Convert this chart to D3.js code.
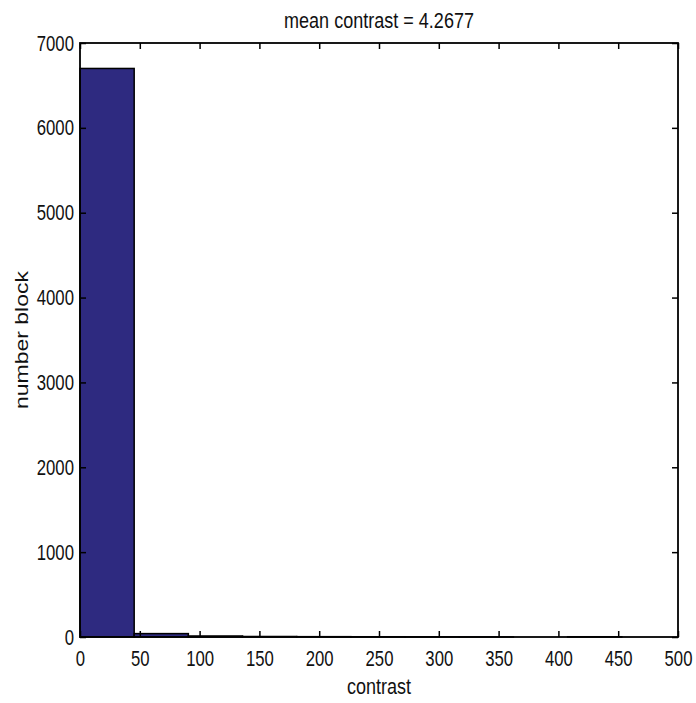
<!DOCTYPE html>
<html>
<head>
<meta charset="utf-8">
<script src="https://cdn.jsdelivr.net/npm/d3@7"></script>
<style>
  body { margin: 0; background: #fff; }
  text { font-family: "Liberation Sans", Arial, sans-serif; fill: #111; }
</style>
</head>
<body>
<div id="chart"></div>
<script>
// histogram bins (left edge, right edge) and counts
const binStarts = [0, 45.3, 90.6, 135.9, 181.2, 226.5, 271.8, 317.1, 362.4, 407.7];
const binEnds = [45.3, 90.6, 135.9, 181.2, 226.5, 271.8, 317.1, 362.4, 407.7, 453];
const counts = [6700, 40, 12, 6, 4, 3, 2, 1, 0, 3];
const xTicks = [0, 50, 100, 150, 200, 250, 300, 350, 400, 450, 500];
const yTicks = [0, 1000, 2000, 3000, 4000, 5000, 6000, 7000];
const title = 'mean contrast = 4.2677';

const W = 696, H = 703;
const margin = {top: 43, right: 18, bottom: 66, left: 80};
const w = W - margin.left - margin.right;
const h = H - margin.top - margin.bottom;

const svg = d3.select('#chart').append('svg')
  .attr('width', W)
  .attr('height', H);
const g = svg.append('g')
  .attr('transform', `translate(${margin.left},${margin.top})`);

const x = d3.scaleLinear().domain([0, 500]).range([0, w]);
const y = d3.scaleLinear().domain([0, 7000]).range([h, 0]);

const bins = counts.map((c, i) => ({x0: binStarts[i], x1: binEnds[i], n: c}));

g.selectAll('.bar')
  .data(bins.filter(d => d.n > 0))
  .enter().append('rect')
  .attr('class', 'bar')
  .attr('x', d => x(d.x0))
  .attr('width', d => x(d.x1) - x(d.x0))
  .attr('y', d => y(d.n))
  .attr('height', d => y(0) - y(d.n))
  .attr('fill', '#2e2a80')
  .attr('stroke', '#000')
  .attr('stroke-width', 1.5);

// the picture is squeezed sideways, so the glyphs are too
const squash = 'scale(0.76,1)';

// bottom axis, ticks pointing inward
const xAxis = g.append('g')
  .attr('transform', `translate(0,${h})`)
  .call(d3.axisBottom(x).tickValues(xTicks).tickSize(-6).tickPadding(13).tickSizeOuter(0));
xAxis.selectAll('text').attr('font-size', 22).attr('transform', squash);

// top axis, ticks only
g.append('g')
  .call(d3.axisTop(x).tickValues(xTicks).tickSize(-6).tickSizeOuter(0).tickFormat(''));

// left axis
const yAxis = g.append('g')
  .call(d3.axisLeft(y).tickValues(yTicks).tickFormat(d3.format('d'))
    .tickSize(-6).tickPadding(8).tickSizeOuter(0));
yAxis.selectAll('text').attr('font-size', 22).attr('transform', squash);

// right axis, ticks only
g.append('g')
  .attr('transform', `translate(${w},0)`)
  .call(d3.axisRight(y).tickValues(yTicks).tickSize(-6).tickSizeOuter(0).tickFormat(''));

g.selectAll('.domain').remove();
g.selectAll('.tick line').attr('stroke', '#000').attr('stroke-width', 1.5);

// frame
g.append('rect')
  .attr('width', w)
  .attr('height', h)
  .attr('fill', 'none')
  .attr('stroke', '#000')
  .attr('stroke-width', 1.8);

// labels
svg.append('text')
  .attr('transform', `translate(${margin.left + w / 2},28) scale(0.82,1)`)
  .attr('text-anchor', 'middle')
  .attr('font-size', 22)
  .text(title);

svg.append('text')
  .attr('transform', `translate(${margin.left + w / 2},694) scale(0.82,1)`)
  .attr('text-anchor', 'middle')
  .attr('font-size', 22)
  .text('contrast');

svg.append('text')
  .attr('transform', `translate(28,${margin.top + h / 2}) rotate(-90) scale(1,0.78)`)
  .attr('text-anchor', 'middle')
  .attr('font-size', 23)
  .text('number block');
</script>
</body>
</html>
